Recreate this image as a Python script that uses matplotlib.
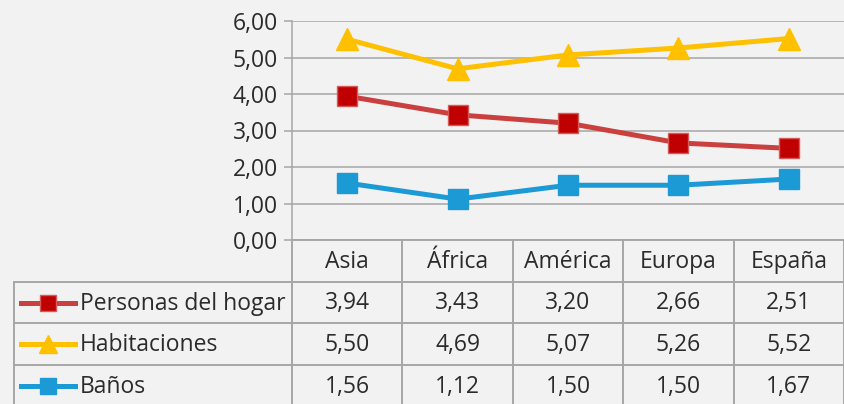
import matplotlib
matplotlib.use("Agg")
import matplotlib.pyplot as plt
from matplotlib.lines import Line2D

# datos
regiones = ["Asia", "África", "América", "Europa", "España"]
personas = [3.94, 3.43, 3.20, 2.66, 2.51]
habitaciones = [5.50, 4.69, 5.07, 5.26, 5.52]
banos = [1.56, 1.12, 1.50, 1.50, 1.67]
series_nombres = ["Personas del hogar", "Habitaciones", "Baños"]
yticks = [0, 1, 2, 3, 4, 5, 6]

W, H = 844, 404
bg = "#F2F2F2"
grid_c = "#A6A6A6"
txt_c = "#2B2B2B"
fs = 16.5
plt.rcParams["font.family"] = ["Open Sans", "DejaVu Sans"]

fig = plt.figure(figsize=(W / 100, H / 100), dpi=100, facecolor=bg)

# area del grafico (pixeles de la imagen)
x0, x1, ytop, ybot = 292, 844, 21, 240
ax = fig.add_axes([x0 / W, 1 - ybot / H, (x1 - x0) / W, (ybot - ytop) / H])
ax.set_facecolor(bg)
ax.set_xlim(-0.5, len(regiones) - 0.5)
ax.set_ylim(0, 6)
ax.set_yticks(yticks)
ax.set_yticklabels(["{:.2f}".format(v).replace(".", ",") for v in yticks],
                   fontsize=fs, color=txt_c)
ax.tick_params(axis="y", length=6, width=1.1, color=grid_c, pad=4)
ax.set_xticks([])
ax.grid(axis="y", color=grid_c, linewidth=1.1)
ax.set_axisbelow(True)
for s in ["top", "right", "bottom"]:
    ax.spines[s].set_visible(False)
ax.spines["left"].set_color(grid_c)
ax.spines["left"].set_linewidth(1.1)

estilos = [
    dict(color="#C9403F", marker="s", markersize=14, markerfacecolor="#C00000",
         markeredgecolor="#D65A58", markeredgewidth=1),
    dict(color="#FFC000", marker="^", markersize=16, markerfacecolor="#FFC000",
         markeredgecolor="#FFC000"),
    dict(color="#1B9AD6", marker="s", markersize=14, markerfacecolor="#1B9AD6",
         markeredgecolor="#1B9AD6"),
]
valores = [personas, habitaciones, banos]
xs = range(len(regiones))
for vals, st in zip(valores, estilos):
    ax.plot(xs, vals, linewidth=3.6, clip_on=False, **st)

# tabla de datos dibujada en coordenadas de pixel
tab = fig.add_axes([0, 0, 1, 1])
tab.set_xlim(0, W)
tab.set_ylim(H, 0)
tab.axis("off")
tab.patch.set_alpha(0)

col_w = (x1 - x0) / len(regiones)
filas = [240, 282, 323, 365, 407]
lw = 1.4
# lineas horizontales
tab.plot([x0, x1], [filas[0], filas[0]], color=grid_c, lw=lw)
for yy in filas[1:]:
    tab.plot([14, x1], [yy, yy], color=grid_c, lw=lw)
# lineas verticales
tab.plot([14, 14], [filas[1], filas[-1]], color=grid_c, lw=lw)
for i in range(len(regiones) + 1):
    xx = x0 + i * col_w
    tab.plot([xx, xx], [filas[0], filas[-1]], color=grid_c, lw=lw)

# cabecera
for i, r in enumerate(regiones):
    tab.text(x0 + (i + 0.5) * col_w, (filas[0] + filas[1]) / 2 + 1, r,
             ha="center", va="center", fontsize=fs, color=txt_c)

# filas con leyenda
for j, (nombre, vals, st) in enumerate(zip(series_nombres, valores, estilos)):
    yc = (filas[j + 1] + filas[j + 2]) / 2
    st2 = dict(st)
    st2["markersize"] = st["markersize"] * 0.8
    tab.add_line(Line2D([21, 48, 75], [yc, yc, yc], linewidth=3.6,
                        markevery=[1], **st2))
    tab.text(80, yc + 1, nombre, ha="left", va="center", fontsize=fs, color=txt_c)
    for i, v in enumerate(vals):
        tab.text(x0 + (i + 0.5) * col_w, yc + 1, "{:.2f}".format(v).replace(".", ","),
                 ha="center", va="center", fontsize=fs, color=txt_c)

fig.savefig("out.png", dpi=100, facecolor=bg)
